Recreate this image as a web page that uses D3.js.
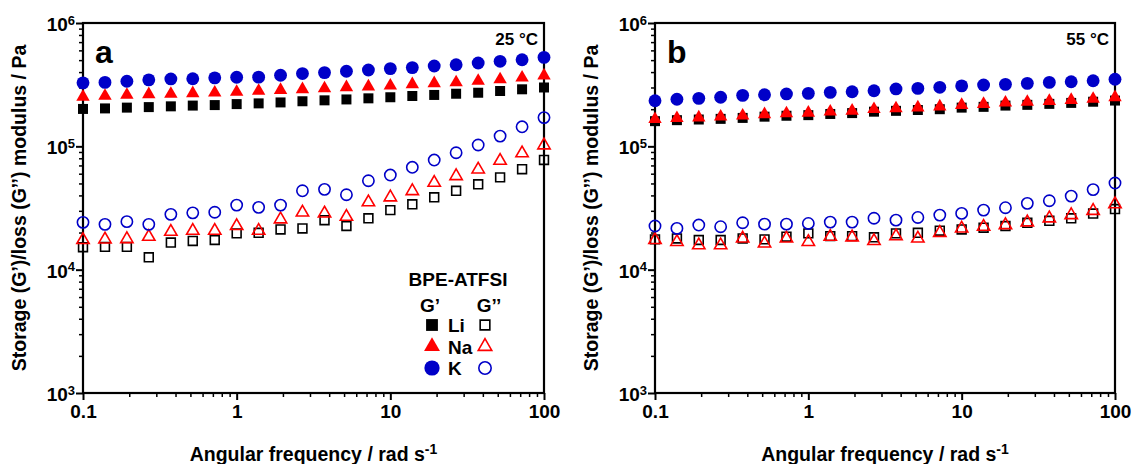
<!DOCTYPE html>
<html>
<head>
<meta charset="utf-8">
<script src="https://cdn.jsdelivr.net/npm/d3@7"></script>
<style>
  body { margin: 0; background: #fff; }
  svg text { font-family: "Liberation Sans", Arial, sans-serif; font-weight: bold; fill: #000; }
</style>
</head>
<body>
<svg id="chart" width="1132" height="464"></svg>
<script>
// angular frequency, rad/s (7 points per decade)
const freq = [0.1, 0.139, 0.193, 0.268, 0.373, 0.518, 0.72, 1, 1.39, 1.93, 2.68, 3.73, 5.18, 7.2, 10, 13.9, 19.3, 26.8, 37.3, 51.8, 72, 100];

// panel a, 25 °C (Pa)
const li25Storage = [201e3, 203e3, 206e3, 208e3, 211e3, 214e3, 216e3, 220e3, 223e3, 227e3, 232e3, 236e3, 240e3, 245e3, 250e3, 256e3, 261e3, 267e3, 272e3, 281e3, 290e3, 300e3];
const na25Storage = [252e3, 256e3, 261e3, 264e3, 266e3, 269e3, 272e3, 276e3, 281e3, 286e3, 290e3, 295e3, 301e3, 305e3, 310e3, 318e3, 324e3, 330e3, 339e3, 349e3, 360e3, 375e3];
const k25Storage = [327e3, 330e3, 337e3, 346e3, 352e3, 353e3, 359e3, 363e3, 364e3, 377e3, 389e3, 396e3, 406e3, 416e3, 427e3, 435e3, 448e3, 459e3, 474e3, 489e3, 504e3, 526e3];
const li25Loss = [15.2e3, 15.3e3, 15.3e3, 12.6e3, 16.6e3, 17.1e3, 17.4e3, 19.7e3, 19.9e3, 21.2e3, 21.6e3, 25.2e3, 22.6e3, 26.1e3, 30.4e3, 33.9e3, 38.6e3, 43.6e3, 49.2e3, 56e3, 65.3e3, 77.6e3];
const na25Loss = [17.4e3, 17.6e3, 17.7e3, 18.5e3, 20.3e3, 20.7e3, 20.7e3, 22.6e3, 20.7e3, 25.6e3, 29.1e3, 28.6e3, 26.9e3, 35.2e3, 38.6e3, 43.4e3, 50.7e3, 57.4e3, 65e3, 76.4e3, 88e3, 102e3];
const k25Loss = [24.2e3, 23.3e3, 24.5e3, 23.3e3, 28.1e3, 28.9e3, 29.2e3, 33.4e3, 32e3, 33.4e3, 43.6e3, 44.8e3, 40.5e3, 52.6e3, 58.5e3, 67.6e3, 77.4e3, 88.7e3, 102.5e3, 121e3, 144e3, 171e3];

// panel b, 55 °C (Pa)
const li55Storage = [160e3, 163e3, 165e3, 167e3, 170e3, 174e3, 177e3, 179e3, 183e3, 186e3, 191e3, 194e3, 197e3, 200e3, 206e3, 209e3, 214e3, 217e3, 221e3, 225e3, 230e3, 235e3];
const na55Storage = [166e3, 169e3, 171e3, 174e3, 177e3, 182e3, 185e3, 187e3, 191e3, 194e3, 200e3, 203e3, 206e3, 210e3, 216e3, 220e3, 226e3, 229e3, 233e3, 237e3, 242e3, 250e3];
const k55Storage = [234e3, 241e3, 245e3, 250e3, 259e3, 262e3, 266e3, 269e3, 274e3, 277e3, 282e3, 292e3, 295e3, 301e3, 309e3, 314e3, 318e3, 324e3, 330e3, 334e3, 340e3, 350e3];
const li55Loss = [17.6e3, 17.9e3, 17.4e3, 17.4e3, 17.9e3, 17.6e3, 18.5e3, 19.7e3, 18.7e3, 18.7e3, 18.3e3, 19.7e3, 19.9e3, 20.7e3, 21.2e3, 21.9e3, 22.6e3, 24e3, 24.9e3, 26.1e3, 28.5e3, 31e3];
const na55Loss = [17.4e3, 16.8e3, 15.8e3, 15.8e3, 17.9e3, 16.3e3, 17.9e3, 16.8e3, 18.5e3, 18.3e3, 17.1e3, 18.7e3, 17.9e3, 19.9e3, 21.6e3, 22.3e3, 23e3, 24.2e3, 26.1e3, 27.7e3, 30e3, 34e3];
const k55Loss = [22.6e3, 21.6e3, 23e3, 22.3e3, 24e3, 23.4e3, 23.4e3, 23.7e3, 24.3e3, 24.3e3, 26.1e3, 25.2e3, 26.5e3, 27.7e3, 28.6e3, 30.4e3, 31.8e3, 34.5e3, 36.2e3, 39.5e3, 44.6e3, 50.4e3];

const cations = ["Li", "Na", "K"];
const xTicks = [0.1, 1, 10, 100];
const xTickLabels = ["0.1", "1", "10", "100"];
const yTicks = [1e3, 1e4, 1e5, 1e6];
const yTickExp = ["3", "4", "5", "6"];

const colors = { Li: "#000000", Na: "#ff0000", K: "#0000c8" };
const shapes = { Li: d3.symbolSquare, Na: d3.symbolTriangle, K: d3.symbolCircle };
const fillSize = { Li: 100, Na: 78, K: 130 };
const openSize = { Li: 78, Na: 66, K: 100 };

const panels = [
  { letter: "a", temp: "25 °C", left: 83, right: 544,
    storage: { Li: li25Storage, Na: na25Storage, K: k25Storage },
    loss: { Li: li25Loss, Na: na25Loss, K: k25Loss } },
  { letter: "b", temp: "55 °C", left: 655, right: 1115,
    storage: { Li: li55Storage, Na: na55Storage, K: k55Storage },
    loss: { Li: li55Loss, Na: na55Loss, K: k55Loss } }
];
const plotTop = 23, plotBottom = 393;

const svg = d3.select("#chart");

// minor ticks 2..9 inside each decade
function minorTicks(lo, hi) {
  var out = [];
  for (var p = lo; p < hi; p *= 10) {
    for (var m = 2; m <= 9; m++) out.push(p * m);
  }
  return out;
}

panels.forEach(function(panel, pi) {
  var x = d3.scaleLog().domain([0.1, 100]).range([panel.left, panel.right]);
  var y = d3.scaleLog().domain([1e3, 1e6]).range([plotBottom, plotTop]);
  var g = svg.append("g");

  // minor ticks
  g.append("g")
    .attr("transform", "translate(0," + plotBottom + ")")
    .call(d3.axisBottom(x).tickValues(minorTicks(0.1, 100)).tickSize(4).tickFormat(""))
    .call(a => a.select(".domain").remove())
    .selectAll("line").attr("stroke-width", 1.5);
  g.append("g")
    .attr("transform", "translate(" + panel.left + ",0)")
    .call(d3.axisLeft(y).tickValues(minorTicks(1e3, 1e6)).tickSize(4).tickFormat(""))
    .call(a => a.select(".domain").remove())
    .selectAll("line").attr("stroke-width", 1.5);

  // major ticks + labels
  var xa = g.append("g")
    .attr("transform", "translate(0," + plotBottom + ")")
    .call(d3.axisBottom(x).tickValues(xTicks).tickSize(7).tickPadding(5)
      .tickFormat((d, i) => xTickLabels[i]));
  xa.select(".domain").remove();
  xa.selectAll("line").attr("stroke-width", 2);
  xa.selectAll("text").style("font-size", "19px");

  var ya = g.append("g")
    .attr("transform", "translate(" + panel.left + ",0)")
    .call(d3.axisLeft(y).tickValues(yTicks).tickSize(7).tickPadding(4).tickFormat(""));
  ya.select(".domain").remove();
  ya.selectAll("line").attr("stroke-width", 2);
  ya.selectAll(".tick").each(function(d, i) {
    var t = d3.select(this).append("text")
      .attr("x", -8).attr("dy", "0.4em")
      .attr("text-anchor", "end")
      .style("font-size", "19px");
    t.append("tspan").text("10");
    t.append("tspan").attr("dy", "-0.5em").style("font-size", "13px").text(yTickExp[i]);
  });

  // frame
  g.append("rect")
    .attr("x", panel.left).attr("y", plotTop)
    .attr("width", panel.right - panel.left).attr("height", plotBottom - plotTop)
    .attr("fill", "none").attr("stroke", "#000").attr("stroke-width", 2.2);

  // axis titles
  var xt = g.append("text")
    .attr("x", (panel.left + panel.right) / 2).attr("y", 461)
    .attr("text-anchor", "middle").style("font-size", "19.5px");
  xt.append("tspan").text("Angular frequency / rad s");
  xt.append("tspan").attr("dy", "-0.5em").style("font-size", "14px").text("-1");

  g.append("text")
    .attr("transform", "translate(" + (panel.left - 57) + "," + ((plotTop + plotBottom) / 2) + ") rotate(-90)")
    .attr("text-anchor", "middle").style("font-size", "19.5px")
    .text("Storage (G’)/loss (G’’) modulus / Pa");

  g.append("text")
    .attr("x", panel.left + 12).attr("y", plotTop + 40)
    .style("font-size", "32px").text(panel.letter);
  g.append("text")
    .attr("x", panel.right - 6).attr("y", plotTop + 22)
    .attr("text-anchor", "end").style("font-size", "17px").text(panel.temp);

  // data: storage (filled), loss (open)
  cations.forEach(function(c) {
    g.append("g").selectAll("path")
      .data(freq.map((f, i) => [f, panel.storage[c][i]]))
      .enter().append("path")
      .attr("transform", d => "translate(" + x(d[0]) + "," + y(d[1]) + ")")
      .attr("d", d3.symbol().type(shapes[c]).size(fillSize[c]))
      .attr("fill", colors[c]);
  });
  cations.forEach(function(c) {
    g.append("g").selectAll("path")
      .data(freq.map((f, i) => [f, panel.loss[c][i]]))
      .enter().append("path")
      .attr("transform", d => "translate(" + x(d[0]) + "," + y(d[1]) + ")")
      .attr("d", d3.symbol().type(shapes[c]).size(openSize[c]))
      .attr("fill", "none").attr("stroke", colors[c]).attr("stroke-width", 1.6);
  });

  // legend only in panel a
  if (pi === 0) {
    var lg = g.append("g");
    lg.append("text").attr("x", 458).attr("y", 286).attr("text-anchor", "middle")
      .style("font-size", "19px").text("BPE-ATFSI");
    lg.append("text").attr("x", 430).attr("y", 312).attr("text-anchor", "middle")
      .style("font-size", "19px").text("G’");
    lg.append("text").attr("x", 489).attr("y", 312).attr("text-anchor", "middle")
      .style("font-size", "19px").text("G’’");
    cations.forEach(function(c, i) {
      var ly = 325 + i * 21.5;
      lg.append("path")
        .attr("transform", "translate(432," + ly + ")")
        .attr("d", d3.symbol().type(shapes[c]).size(fillSize[c] * 1.4))
        .attr("fill", colors[c]);
      lg.append("text").attr("x", 448).attr("y", ly + 7)
        .style("font-size", "19px").text(c);
      lg.append("path")
        .attr("transform", "translate(485," + ly + ")")
        .attr("d", d3.symbol().type(shapes[c]).size(openSize[c] * 1.2))
        .attr("fill", "none").attr("stroke", colors[c]).attr("stroke-width", 1.6);
    });
  }
});
</script>
</body>
</html>
